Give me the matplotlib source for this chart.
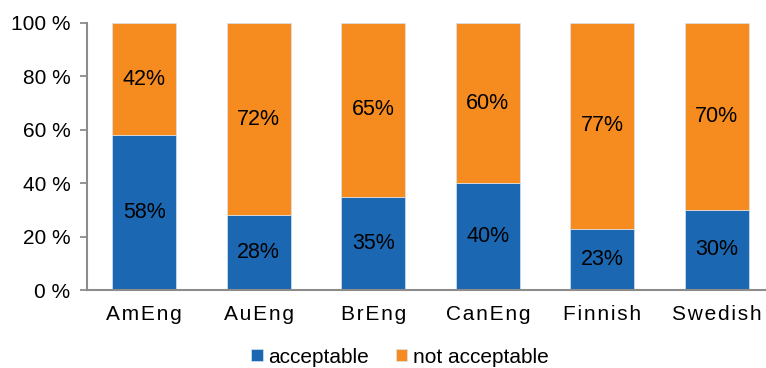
import numpy as np
import matplotlib.pyplot as plt

plt.rcParams['font.family'] = ['Liberation Sans', 'DejaVu Sans']

# survey results per variety
varieties = ['AmEng', 'AuEng', 'BrEng', 'CanEng', 'Finnish', 'Swedish']
acceptable = [58, 28, 35, 40, 23, 30]
not_acceptable = [42, 72, 65, 60, 77, 70]

blue = '#1B67B2'
orange = '#F68B1F'
axis_grey = '#8C8C8C'

fig = plt.figure(figsize=(7.66, 3.68), dpi=100)
ax = fig.add_axes([87 / 766, 1 - 290 / 368, (774 - 87) / 766, 267 / 368])

x = np.arange(len(varieties))
w = 0.555
b1 = ax.bar(x, acceptable, w, color=blue, edgecolor='#d8e4f0', linewidth=0.5)
b2 = ax.bar(x, not_acceptable, w, bottom=acceptable, color=orange,
            edgecolor='#d8e4f0', linewidth=0.5)

for i in range(len(varieties)):
    ax.text(x[i], acceptable[i] / 2, f'{acceptable[i]}%', ha='center',
            va='center', fontsize=15.5, color='black')
    ax.text(x[i], acceptable[i] + not_acceptable[i] / 2, f'{not_acceptable[i]}%',
            ha='center', va='center', fontsize=15.5, color='black')

ax.set_xlim(-0.5, len(varieties) - 0.5)
ax.set_ylim(0, 100)
ax.set_yticks(range(0, 101, 20))
ax.set_yticklabels([f'{v} %' for v in range(0, 101, 20)], fontsize=15)

# spaced-out category names
spaced = ['\u200a'.join(list(v)) for v in varieties]
ax.set_xticks(x)
ax.set_xticklabels(spaced, fontsize=15)
ax.tick_params(axis='x', length=0, pad=11)
ax.tick_params(axis='y', length=5, width=1.3, color=axis_grey, pad=7)

for s in ['top', 'right']:
    ax.spines[s].set_visible(False)
for s in ['left', 'bottom']:
    ax.spines[s].set_color(axis_grey)
    ax.spines[s].set_linewidth(1.5)

fig.legend([b1, b2], ['acceptable', 'not acceptable'], loc='lower center',
           bbox_to_anchor=(0.522, -0.047), ncol=2, frameon=False, fontsize=15,
           handlelength=0.55, handleheight=0.55, handletextpad=0.25,
           columnspacing=1.3)

fig.savefig('out.png', dpi=100)
